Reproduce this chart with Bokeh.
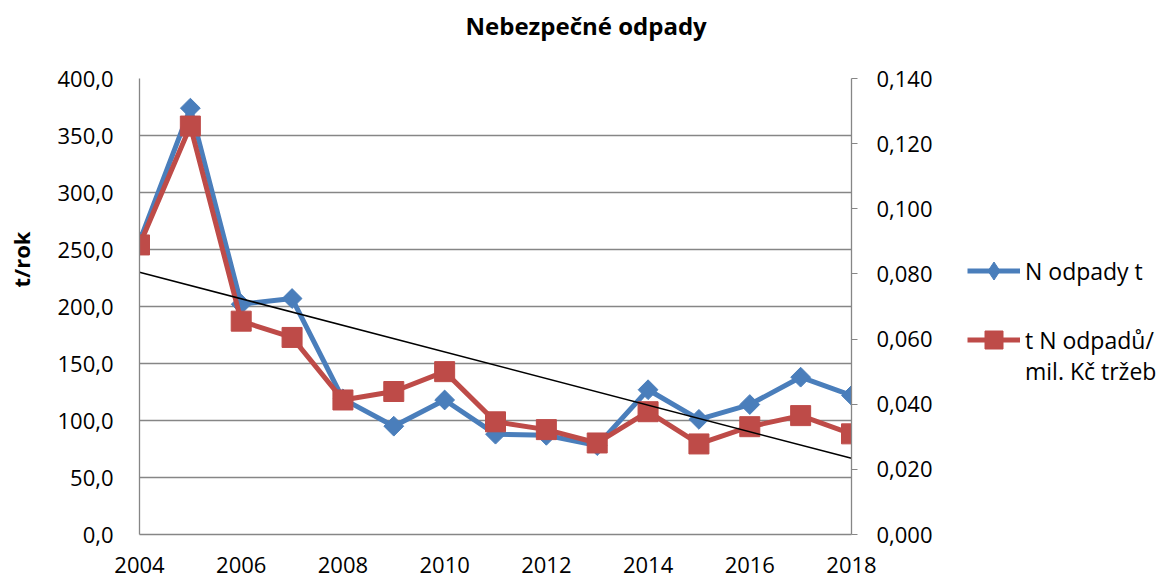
import numpy as np
from bokeh.plotting import figure
from bokeh.layouts import row
from bokeh.models import (Range1d, LinearAxis, FixedTicker, CustomJSTickFormatter,
                          Legend, LegendItem, Title)
from bokeh.embed import file_html
from bokeh.resources import INLINE

years = [2004, 2005, 2006, 2007, 2008, 2009, 2010, 2011, 2012, 2013, 2014, 2015, 2016, 2017, 2018]
n_odpady_t = [257, 374, 202, 207, 119, 95, 118, 88, 87, 78, 127, 101, 114, 138, 122]
t_na_mil_kc = [0.0889, 0.1254, 0.0655, 0.0605, 0.0413, 0.0439, 0.0500, 0.0346, 0.0322,
               0.0281, 0.0377, 0.0278, 0.0331, 0.0365, 0.0309]
left_ticks = [0, 50, 100, 150, 200, 250, 300, 350, 400]
right_ticks = [0, 0.02, 0.04, 0.06, 0.08, 0.10, 0.12, 0.14]
x_ticks = [2004, 2006, 2008, 2010, 2012, 2014, 2016, 2018]

title_text = "Nebezpečné odpady"
y_label = "t/rok"
label_blue = "N odpady t"
label_red_1 = "t N odpadů/"
label_red_2 = "mil. Kč tržeb"

FONT = "Open Sans"
BLUE = "#4A7EBB"
RED = "#BE4B48"
GRID = "#868686"

W_MAIN = 936
W_LEG = 1160 - W_MAIN
H = 587

HAS_STANDOFF = "standoff" in Title.properties()

p = figure(width=W_MAIN, height=H, output_backend="svg", toolbar_location=None,
           x_range=Range1d(2004, 2018), y_range=Range1d(0, 400),
           min_border_left=139, min_border_right=85, min_border_top=78, min_border_bottom=53)
p.outline_line_color = None
p.background_fill_color = "white"
p.border_fill_color = "white"

p.extra_y_ranges = {"r": Range1d(0, 0.14)}

# title (spacer first so the real title sits higher)
p.add_layout(Title(text=" ", text_font_size="18px"), "above")
p.title.text = title_text
p.title.align = "left"
p.title.offset = 326
p.title.text_font = FONT
p.title.text_font_size = "24px"
p.title.text_font_style = "bold"
p.title.text_color = "black"

# grid
p.xgrid.visible = False
p.ygrid.ticker = FixedTicker(ticks=left_ticks)
p.ygrid.grid_line_color = GRID
p.ygrid.grid_line_width = 1.3

# axes
xa = p.xaxis[0]
xa.ticker = FixedTicker(ticks=x_ticks)
xa.major_tick_out = 0
xa.major_tick_in = 0
xa.minor_tick_out = 0
xa.minor_tick_in = 0
xa.axis_line_color = GRID
xa.axis_line_width = 1.3
xa.major_label_standoff = 22
xa.major_label_text_font = FONT
xa.major_label_text_font_size = "22px"
xa.major_label_text_color = "black"

ya = p.yaxis[0]
ya.ticker = FixedTicker(ticks=left_ticks)
ya.formatter = CustomJSTickFormatter(code="return tick.toFixed(1).replace('.', ',');")
ya.major_tick_out = 0
ya.major_tick_in = 0
ya.minor_tick_out = 0
ya.minor_tick_in = 0
ya.axis_line_color = GRID
ya.axis_line_width = 1.3
ya.major_label_standoff = 26
ya.major_label_text_font = FONT
ya.major_label_text_font_size = "22px"
ya.major_label_text_color = "black"

# y-axis title as a left-side Title so it can sit above the frame centre
spacer_kw = dict(standoff=0) if HAS_STANDOFF else {}
p.add_layout(Title(text=" ", text_font_size="15px", **spacer_kw), "left")
p.add_layout(Title(text=y_label, align="left", offset=247, text_font=FONT,
                   text_font_size="22px", text_font_style="bold", text_color="black",
                   **spacer_kw), "left")

ra = LinearAxis(y_range_name="r", ticker=FixedTicker(ticks=right_ticks),
                formatter=CustomJSTickFormatter(code="return tick.toFixed(3).replace('.', ',');"))
ra.major_tick_out = 6
ra.major_tick_in = 0
ra.minor_tick_out = 0
ra.minor_tick_in = 0
ra.axis_line_color = GRID
ra.axis_line_width = 1.3
ra.major_tick_line_color = GRID
ra.major_label_standoff = 19
ra.major_label_text_font = FONT
ra.major_label_text_font_size = "22px"
ra.major_label_text_color = "black"
p.add_layout(ra, "right")

# series
p.line(years, n_odpady_t, line_color=BLUE, line_width=5)
p.scatter(years, n_odpady_t, marker="square", size=14, angle=np.pi / 4,
          fill_color=BLUE, line_color=BLUE)
p.line(years, t_na_mil_kc, y_range_name="r", line_color=RED, line_width=5)
p.scatter(years, t_na_mil_kc, y_range_name="r", marker="square", size=20,
          fill_color=RED, line_color=RED)

# linear trend of the blue series
coef = np.polyfit(np.array(years, dtype=float), np.array(n_odpady_t, dtype=float), 1)
trend_x = [years[0], years[-1]]
trend_y = [float(np.polyval(coef, years[0])), float(np.polyval(coef, years[-1]))]
p.line(trend_x, trend_y, line_color="black", line_width=1.5)

# ---- legend panel (separate figure to the right) ----
q = figure(width=W_LEG, height=H, output_backend="svg", toolbar_location=None,
           x_range=Range1d(0, 1), y_range=Range1d(0, 1),
           x_axis_type=None, y_axis_type=None,
           min_border_left=0, min_border_right=0, min_border_top=0, min_border_bottom=0)
q.outline_line_color = None
q.xgrid.visible = False
q.ygrid.visible = False
q.background_fill_color = "white"
q.border_fill_color = "white"

nan = np.array([np.nan])
lb = q.line(nan, nan, line_color=BLUE, line_width=5)
mb = q.scatter(nan, nan, marker="diamond", fill_color=BLUE, line_color=BLUE)
lr = q.line(nan, nan, line_color=RED, line_width=5)
mr = q.scatter(nan, nan, marker="square", fill_color=RED, line_color=RED)
lx = q.line(nan, nan, line_alpha=0)


def make_legend(items, loc, gh):
    lg = Legend(items=items, location=loc)
    lg.border_line_color = None
    lg.background_fill_alpha = 0
    lg.label_text_font = FONT
    lg.label_text_font_size = "23px"
    lg.label_text_color = "black"
    lg.glyph_width = 53
    lg.glyph_height = gh
    lg.label_height = gh
    lg.label_standoff = 5
    lg.spacing = 0
    lg.padding = 0
    lg.margin = 0
    q.add_layout(lg, "center")


make_legend([LegendItem(label=label_blue, renderers=[lb, mb])], (31, 241), 45)
make_legend([LegendItem(label=label_red_1, renderers=[lr, mr])], (31, 172), 45)
make_legend([LegendItem(label=label_red_2, renderers=[lx])], (31, 147), 32)

layout = row(p, q, spacing=0)
open("out.html", "w").write(file_html(layout, INLINE))
